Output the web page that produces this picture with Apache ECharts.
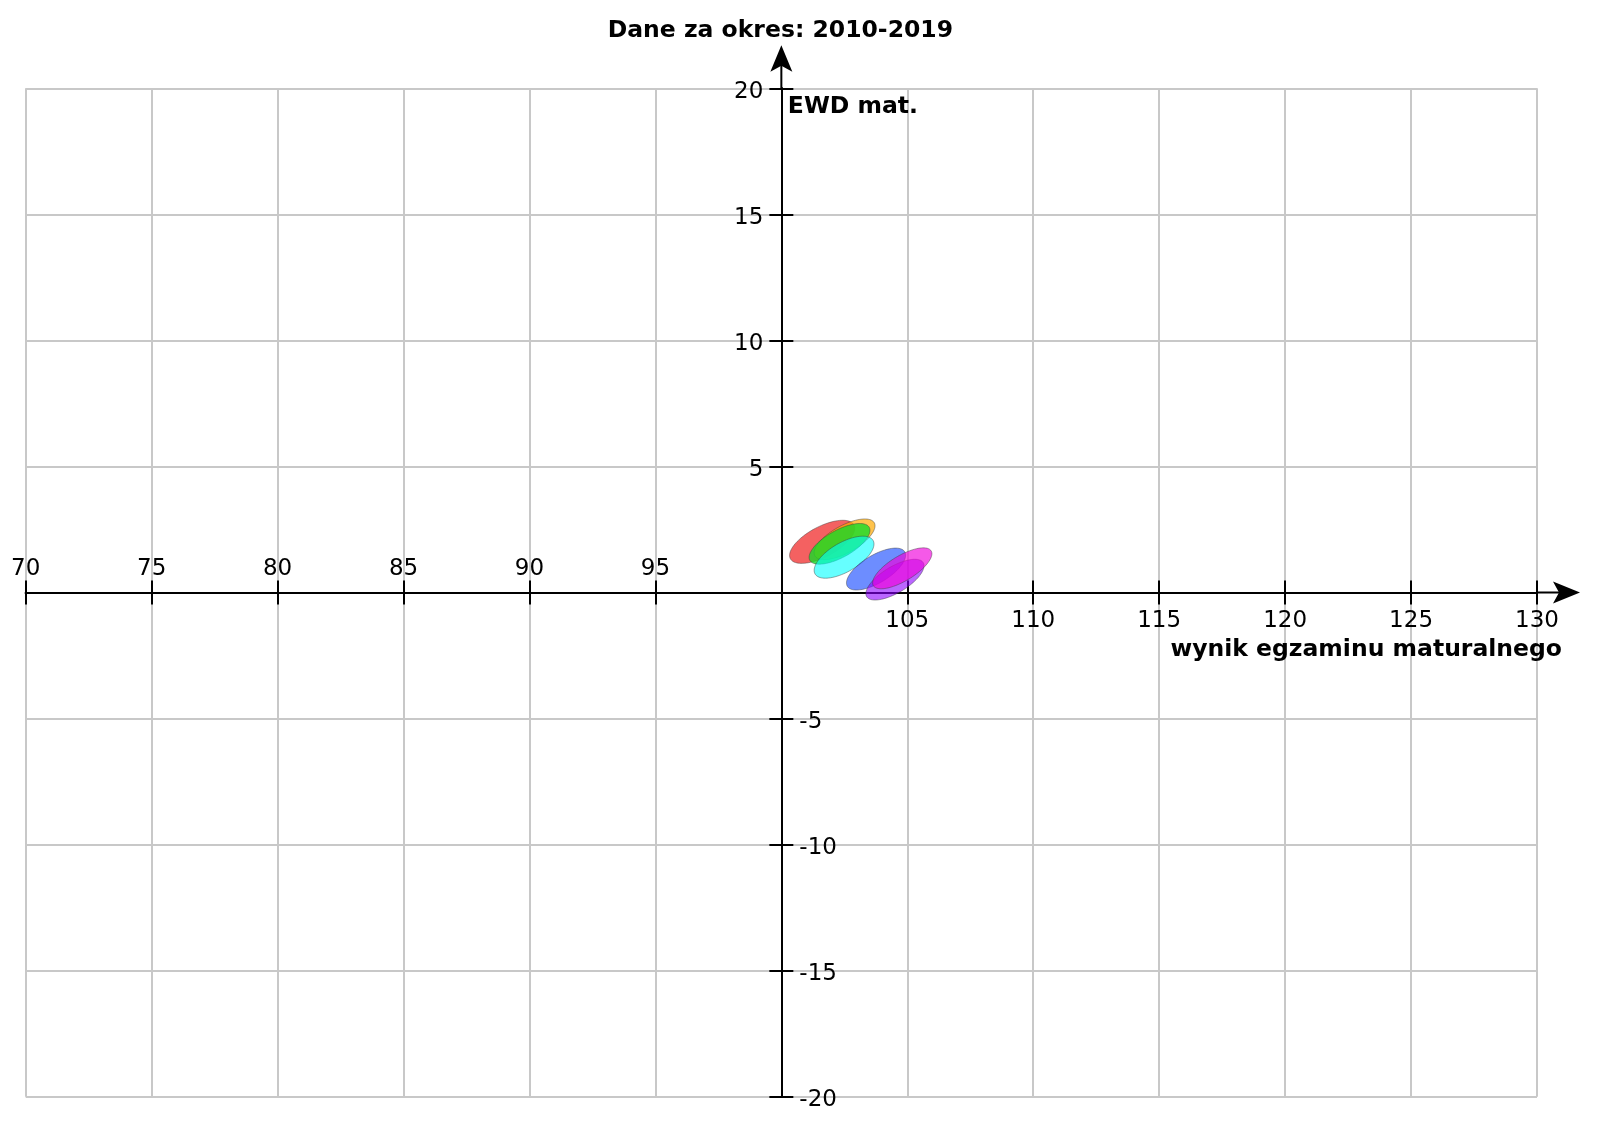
<!DOCTYPE html>
<html><head><meta charset="utf-8">
<script src="https://cdn.jsdelivr.net/npm/echarts@6/dist/echarts.min.js"></script>
<style>html,body{margin:0;padding:0;background:#fff}#c{width:1600px;height:1123px}</style>
</head><body><div id="c"></div>
<script>
// ---- texts ----
const chartTitle = 'Dane za okres: 2010-2019';
const xName = 'wynik egzaminu maturalnego';
const yName = 'EWD mat.';
// ---- axis ranges ----
const xMin = 70, xMax = 130, xStep = 5, xCross = 100;
const yMin = -20, yMax = 20, yStep = 5;
// ---- ellipses (data units) ----
const ellipseX   = [101.62, 102.51, 102.31, 102.49, 103.76, 104.51, 104.80];
const ellipseY   = [2.01, 2.11, 1.93, 1.40, 0.93, 0.51, 0.96];
const semiMajor  = [1.43, 1.35, 1.35, 1.33, 1.33, 1.31, 1.34];
const semiMinor  = [0.60, 0.54, 0.54, 0.58, 0.55, 0.52, 0.50];
const angleDeg   = [28, 29, 29, 30, 31, 31, 31];
// ---- styles ----
const ellipseColors = ['rgba(240,30,30,0.7)', 'rgba(255,170,0,0.7)', 'rgba(20,220,40,0.8)',
  'rgba(0,255,255,0.6)', 'rgba(30,80,255,0.65)', 'rgba(140,0,255,0.6)', 'rgba(240,0,220,0.65)'];
const FONT = '"DejaVu Sans", sans-serif';
const FS = 23;

const chart = echarts.init(document.getElementById('c'), null, {renderer: 'canvas'});
const lineStyle = {color: '#000', width: 2};
const gridStyle = {color: '#c8c8c8', width: 2};
const labelBase = {color: '#000', fontSize: FS, fontFamily: FONT};

function xAxisDef(pos, margin, test, split, offset) {
  return {
    type: 'value', position: pos, offset: offset, min: xMin - xCross, max: xMax - xCross, interval: xStep,
    axisLine: {show: true, onZero: false, lineStyle: lineStyle},
    axisTick: {show: true, length: 12, lineStyle: lineStyle},
    axisLabel: Object.assign({margin: margin, formatter: v => test(v + xCross) ? String(v + xCross) : ''}, labelBase),
    splitLine: {show: split, lineStyle: gridStyle}
  };
}
function yAxisDef(pos, margin, test, split, offset) {
  return {
    type: 'value', position: pos, offset: offset, min: yMin, max: yMax, interval: yStep,
    axisLine: {show: true, onZero: false, lineStyle: lineStyle},
    axisTick: {show: true, length: 12, lineStyle: lineStyle},
    axisLabel: Object.assign({margin: margin, verticalAlign: 'top', lineHeight: 7,
      formatter: v => test(v) ? String(v) : ''}, labelBase),
    splitLine: {show: split, lineStyle: gridStyle}
  };
}

const seriesData = ellipseX.map((x, i) => [x - xCross, ellipseY[i], semiMajor[i], semiMinor[i], angleDeg[i]]);

function buildOption(off) {
  return {
    animation: false,
    grid: {left: 25.7, right: 63, top: 88.3, bottom: 26.3, containLabel: false, outerBoundsMode: 'none'},
    xAxis: [
      xAxisDef('bottom', 17, v => v > xCross, true, off.bottom),
      xAxisDef('top', 12, v => v < xCross, false, off.top)
    ],
    yAxis: [
      yAxisDef('left', 18, v => v > 0, true, off.left),
      yAxisDef('right', 18, v => v < 0, false, off.right)
    ],
    series: [{
      type: 'custom', coordinateSystem: 'cartesian2d', xAxisIndex: 0, yAxisIndex: 0,
      clip: false, z: 5,
      encode: {x: 0, y: 1},
      data: seriesData,
      renderItem: function (params, api) {
        const i = params.dataIndex;
        const cx = api.value(0), cy = api.value(1), a = api.value(2), b = api.value(3);
        const th = api.value(4) * Math.PI / 180;
        const pts = [];
        for (let k = 0; k < 96; k++) {
          const t = k / 96 * 2 * Math.PI;
          const dx = a * Math.cos(t), dy = b * Math.sin(t);
          pts.push(api.coord([cx + dx * Math.cos(th) - dy * Math.sin(th), cy + dx * Math.sin(th) + dy * Math.cos(th)]));
        }
        return {type: 'polygon', shape: {points: pts},
          style: {fill: ellipseColors[i], stroke: 'rgba(60,60,60,0.45)', lineWidth: 1}};
      }
    }]
  };
}

chart.setOption(buildOption({bottom: 0, top: 0, left: 0, right: 0}));
const f = {xAxisIndex: 0, yAxisIndex: 0};
const O = chart.convertToPixel(f, [0, 0]);
const XE = chart.convertToPixel(f, [xMax - xCross, yMin]);
const XS = chart.convertToPixel(f, [xMin - xCross, yMax]);
// move the axes so they cross at (xCross, 0)
chart.setOption(buildOption({
  bottom: -(XE[1] - O[1]), top: -(O[1] - XS[1]),
  left: -(O[0] - XS[0]), right: -(XE[0] - O[0])
}));

const boldFont = 'bold 23.5px ' + FONT;
const AX = [XE[0], O[1]];
const AY = [O[0], XS[1]];
chart.setOption({
  graphic: [
    {type: 'line', z: 10, shape: {x1: AX[0], y1: AX[1], x2: AX[0] + 38, y2: AX[1]}, style: {stroke: '#000', lineWidth: 2}},
    {type: 'polygon', z: 10, shape: {points: [[AX[0] + 43, AX[1]], [AX[0] + 16, AX[1] - 11], [AX[0] + 22, AX[1]], [AX[0] + 16, AX[1] + 11]]}, style: {fill: '#000'}},
    {type: 'line', z: 10, shape: {x1: AY[0], y1: AY[1], x2: AY[0], y2: AY[1] - 38}, style: {stroke: '#000', lineWidth: 2}},
    {type: 'polygon', z: 10, shape: {points: [[AY[0], AY[1] - 43], [AY[0] - 11, AY[1] - 16.5], [AY[0], AY[1] - 22.5], [AY[0] + 11, AY[1] - 16.5]]}, style: {fill: '#000'}},
    {type: 'text', z: 10, style: {text: chartTitle, x: O[0] - 1, y: 30.5, textAlign: 'center', textVerticalAlign: 'middle', font: boldFont, fill: '#000'}},
    {type: 'text', z: 10, style: {text: yName, x: AY[0] + 6.5, y: AY[1] + 19, textAlign: 'left', textVerticalAlign: 'middle', font: boldFont, fill: '#000'}},
    {type: 'text', z: 10, style: {text: xName, x: AX[0] + 25, y: AX[1] + 57, textAlign: 'right', textVerticalAlign: 'middle', font: boldFont, fill: '#000'}}
  ]
});
</script>
</body></html>
